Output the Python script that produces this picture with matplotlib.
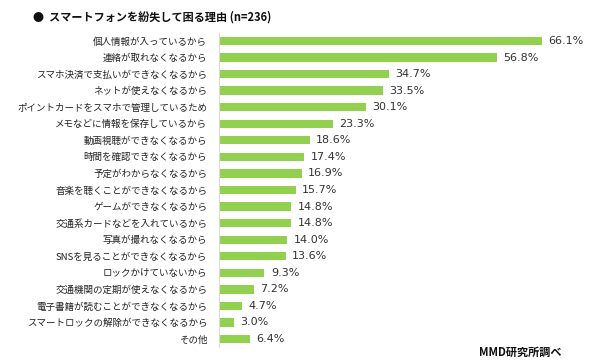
import matplotlib
matplotlib.use("Agg")
import matplotlib.pyplot as plt

plt.rcParams['font.family'] = ['Noto Sans CJK JP', 'DejaVu Sans']

categories = [
    "個人情報が入っているから",
    "連絡が取れなくなるから",
    "スマホ決済で支払いができなくなるから",
    "ネットが使えなくなるから",
    "ポイントカードをスマホで管理しているため",
    "メモなどに情報を保存しているから",
    "動画視聴ができなくなるから",
    "時間を確認できなくなるから",
    "予定がわからなくなるから",
    "音楽を聴くことができなくなるから",
    "ゲームができなくなるから",
    "交通系カードなどを入れているから",
    "写真が撮れなくなるから",
    "SNSを見ることができなくなるから",
    "ロックかけていないから",
    "交通機関の定期が使えなくなるから",
    "電子書籍が読むことができなくなるから",
    "スマートロックの解除ができなくなるから",
    "その他",
]
values = [66.1, 56.8, 34.7, 33.5, 30.1, 23.3, 18.6, 17.4, 16.9, 15.7,
          14.8, 14.8, 14.0, 13.6, 9.3, 7.2, 4.7, 3.0, 6.4]
title = "●  スマートフォンを紛失して困る理由 (n=236)"
source = "MMD研究所調べ"

W, H = 590, 363
fig = plt.figure(figsize=(W / 100, H / 100), dpi=100)
left_px, right_px, top_px, bot_px = 219, 590, 33, 347
ax = fig.add_axes([left_px / W, 1 - bot_px / H, (right_px - left_px) / W, (bot_px - top_px) / H])

pos = list(range(len(categories)))
ax.barh(pos, values, height=0.5, color="#92D050")
ax.set_ylim(18.48, -0.48)
ax.set_xlim(0, (right_px - left_px) / 4.89)

for p, v in zip(pos, values):
    ax.text(v + 1.3, p, f"{v:.1f}%", va="center", ha="left", fontsize=8,
            color="#333333", family=["DejaVu Sans"])

ax.set_yticks(pos)
ax.set_yticklabels(categories, fontsize=6.85, color="#222222")
ax.tick_params(axis="y", length=0, pad=8.5)
ax.set_xticks([])
for s in ["top", "right", "bottom"]:
    ax.spines[s].set_visible(False)
ax.spines["left"].set_color("#d9d9d9")
ax.spines["left"].set_linewidth(0.8)

fig.text(33 / W, 1 - 17 / H, title, fontsize=8, fontweight="bold", va="center", ha="left", color="#111111")
fig.text(562 / W, 1 - 352 / H, source, fontsize=8, fontweight="bold", va="center", ha="right", color="#111111")

fig.savefig("out.png", dpi=100)
